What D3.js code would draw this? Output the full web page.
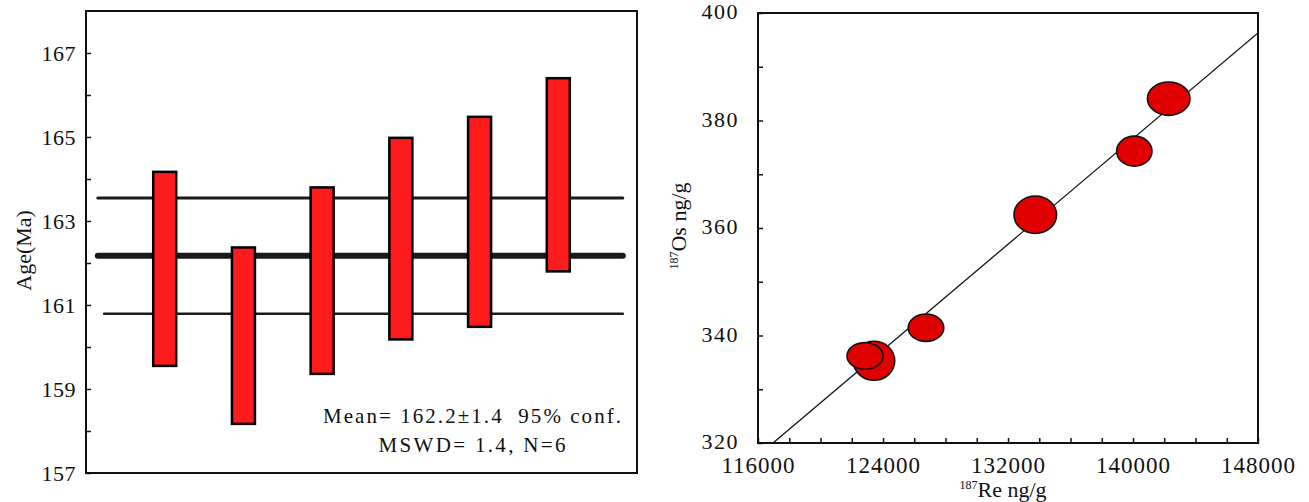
<!DOCTYPE html>
<html>
<head>
<meta charset="utf-8">
<script src="https://cdn.jsdelivr.net/npm/d3@7"></script>
<style>
  body { margin: 0; background: #fff; }
  svg text { font-family: "Liberation Serif", "Times New Roman", Times, serif; fill: #111; }
</style>
</head>
<body>
<div id="chart"></div>
<script>
// weighted mean plot: model ages with 2 sigma errors
var sampleIdx = [1, 2, 3, 4, 5, 6]
var ageMid = [161.86, 160.27, 161.58, 162.58, 162.98, 164.10]
var ageErr = [2.31, 2.10, 2.22, 2.40, 2.50, 2.30]
var meanAge = 162.17
var meanErr = 1.38
var ageTicks = [157, 159, 161, 163, 165, 167]
var statLines = ["Mean= 162.2\u00b11.4  95% conf.", "MSWD= 1.4, N=6"]

// isochron plot: 187Re vs 187Os with error ellipses
var re187 = [123424, 122848, 126752, 133747, 140083, 142285]
var os187 = [335.3, 336.2, 341.45, 362.47, 374.3, 384.06]
var reErr = [1325, 1152, 1139, 1363, 1133, 1363]
var osErr = [3.63, 2.48, 2.55, 3.48, 2.79, 3.10]
var isoLineX = [116960, 148000]
var isoLineY = [320, 396.3]
var reTicks = [116000, 124000, 132000, 140000, 148000]
var osTicks = [320, 340, 360, 380, 400]

var width = 1309, height = 502
var serif = '"Liberation Serif", "Times New Roman", Times, serif'

var svg = d3.select('#chart').append('svg').attr('width', width).attr('height', height)
  .attr('font-family', serif)

// ---------- left panel ----------
var L = {left: 86, right: 637, top: 11, bottom: 473}
var xL = d3.scaleLinear().domain([0, 7]).range([L.left, L.right])
var yL = d3.scaleLinear().domain([157, 168]).range([L.bottom, L.top])

var gl = svg.append('g')

gl.append('rect').attr('x', L.left).attr('y', L.top)
  .attr('width', L.right - L.left).attr('height', L.bottom - L.top)
  .attr('fill', 'none').attr('stroke', '#111').attr('stroke-width', 2)

var ayL = d3.axisLeft(yL).tickValues(d3.range(157, 168, 1)).tickSize(-5)
  .tickFormat(function(d) { return ageTicks.indexOf(d) >= 0 ? d : '' })
var ayLg = gl.append('g').attr('transform', 'translate(' + L.left + ',0)').call(ayL)
  .attr('font-family', serif)
ayLg.select('.domain').remove()
ayLg.selectAll('line').attr('stroke', '#111').attr('stroke-width', 1.5)
ayLg.selectAll('text').attr('x', -10).style('font-size', '22px').attr('fill', '#111')
  .style('letter-spacing', '0.5px')

gl.append('text').attr('transform', 'translate(31,' + yL(162.3) + ') rotate(-90)')
  .attr('text-anchor', 'middle').style('font-size', '22px').text('Age(Ma)')

// mean and confidence lines
var meanLines = [
  {v: meanAge + meanErr, w: 3, x0: 0.15},
  {v: meanAge, w: 6, x0: 0.15},
  {v: meanAge - meanErr, w: 2.5, x0: 0.23}
]
gl.selectAll('.mline').data(meanLines).join('line')
  .attr('class', 'mline')
  .attr('x1', function(d) { return xL(d.x0) })
  .attr('x2', xL(6.82))
  .attr('y1', function(d) { return yL(d.v) })
  .attr('y2', function(d) { return yL(d.v) })
  .attr('stroke', '#1a1a1a').attr('stroke-linecap', 'round')
  .attr('stroke-width', function(d) { return d.w })

gl.selectAll('.bar').data(sampleIdx).join('rect')
  .attr('class', 'bar')
  .attr('x', function(d) { return xL(d) - 11.5 })
  .attr('width', 23)
  .attr('y', function(d, i) { return yL(ageMid[i] + ageErr[i]) })
  .attr('height', function(d, i) { return yL(ageMid[i] - ageErr[i]) - yL(ageMid[i] + ageErr[i]) })
  .attr('fill', '#fe1b1b').attr('stroke', '#000').attr('stroke-width', 2.5)

gl.selectAll('.stat').data(statLines).join('text')
  .attr('class', 'stat')
  .attr('x', 472).attr('y', function(d, i) { return 423 + i * 29 })
  .attr('text-anchor', 'middle').style('font-size', '21px')
  .style('white-space', 'pre')
  .attr('textLength', function(d, i) { return i == 0 ? 298 : 187 })
  .attr('lengthAdjust', 'spacing')
  .text(function(d) { return d })

// ---------- right panel ----------
var R = {left: 758, right: 1258, top: 13, bottom: 443}
var xR = d3.scaleLinear().domain([116000, 148000]).range([R.left, R.right])
var yR = d3.scaleLinear().domain([320, 400]).range([R.bottom, R.top])

var gr = svg.append('g')

svg.append('clipPath').attr('id', 'clipR').append('rect')
  .attr('x', R.left).attr('y', R.top).attr('width', R.right - R.left).attr('height', R.bottom - R.top)

var axR = d3.axisBottom(xR).tickValues(d3.range(116000, 148001, 2000)).tickSize(-5)
  .tickFormat(function(d) { return reTicks.indexOf(d) >= 0 ? d : '' })
var axRg = gr.append('g').attr('transform', 'translate(0,' + R.bottom + ')').call(axR)
  .attr('font-family', serif)
axRg.select('.domain').remove()
axRg.selectAll('line').attr('stroke', '#111').attr('stroke-width', 1.5)
axRg.selectAll('text').attr('y', 14).style('font-size', '23px').attr('fill', '#111')
  .style('letter-spacing', '1px')

var ayR = d3.axisLeft(yR).tickValues(d3.range(320, 401, 10)).tickSize(-5)
  .tickFormat(function(d) { return osTicks.indexOf(d) >= 0 ? d : '' })
var ayRg = gr.append('g').attr('transform', 'translate(' + R.left + ',0)').call(ayR)
  .attr('font-family', serif)
ayRg.select('.domain').remove()
ayRg.selectAll('line').attr('stroke', '#111').attr('stroke-width', 1.5)
ayRg.selectAll('text').attr('x', -19).attr('dy', '0.25em').style('font-size', '22px')
  .attr('fill', '#111').style('letter-spacing', '1.5px')

gr.append('line')
  .attr('x1', xR(isoLineX[0])).attr('y1', yR(isoLineY[0]))
  .attr('x2', xR(isoLineX[1])).attr('y2', yR(isoLineY[1]))
  .attr('stroke', '#111').attr('stroke-width', 1.3)
  .attr('clip-path', 'url(#clipR)')

gr.selectAll('ellipse').data(re187).join('ellipse')
  .attr('cx', function(d) { return xR(d) })
  .attr('cy', function(d, i) { return yR(os187[i]) })
  .attr('rx', function(d, i) { return xR(d + reErr[i]) - xR(d) })
  .attr('ry', function(d, i) { return yR(os187[i] - osErr[i]) - yR(os187[i]) })
  .attr('fill', '#e00000').attr('stroke', '#111').attr('stroke-width', 1.6)

gr.append('rect').attr('x', R.left).attr('y', R.top)
  .attr('width', R.right - R.left).attr('height', R.bottom - R.top)
  .attr('fill', 'none').attr('stroke', '#111').attr('stroke-width', 2)

var ylab = gr.append('text').attr('transform', 'translate(686,' + 226 + ') rotate(-90)')
  .attr('text-anchor', 'middle').style('font-size', '22px')
ylab.append('tspan').style('font-size', '12px').attr('dy', '-8').text('187')
ylab.append('tspan').attr('dy', '8').text('Os ng/g')

var xlab = gr.append('text').attr('x', 1003).attr('y', 497)
  .attr('text-anchor', 'middle').style('font-size', '22px')
xlab.append('tspan').style('font-size', '12px').attr('dy', '-8').text('187')
xlab.append('tspan').attr('dy', '8').text('Re ng/g')
</script>
</body>
</html>
